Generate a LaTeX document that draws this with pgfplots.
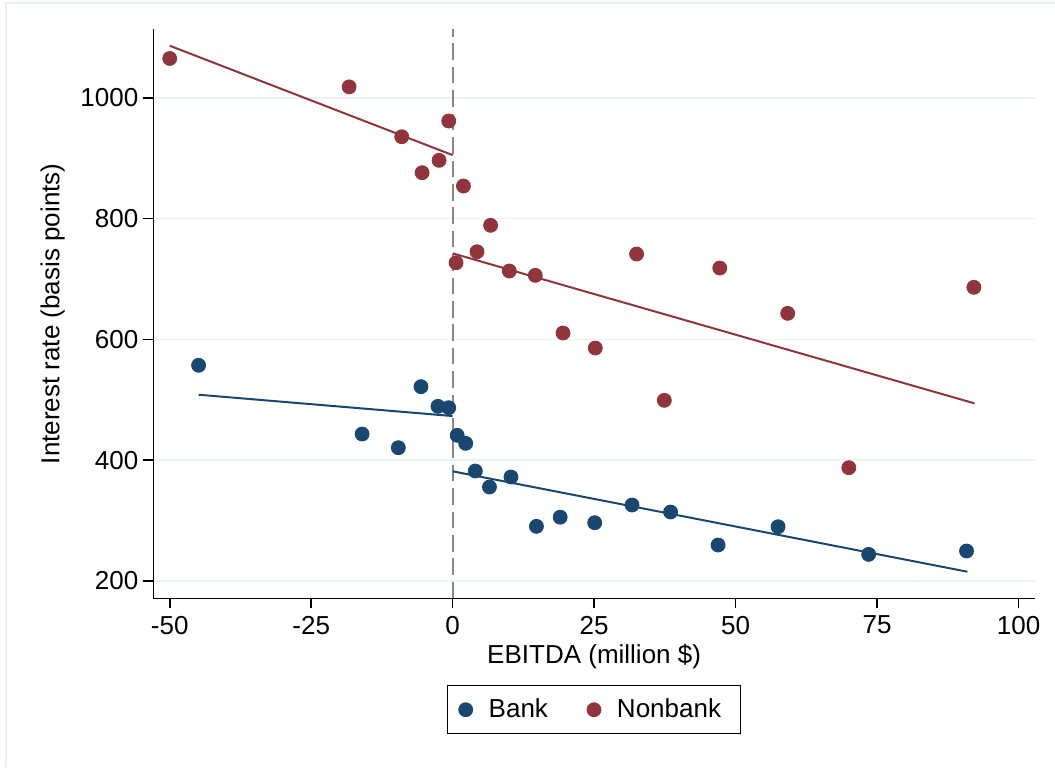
\documentclass[border=0pt]{standalone}
\usepackage{pgfplots}
\pgfplotsset{compat=1.18}
\usepackage{fontspec}
\setmainfont{Liberation Sans}
\definecolor{bankc}{RGB}{26,71,111}
\definecolor{nonbankc}{RGB}{144,53,59}
\definecolor{gridc}{RGB}{234,242,243}
\definecolor{framec}{RGB}{232,240,243}
\definecolor{dashc}{RGB}{135,135,135}
\begin{document}
\begin{tikzpicture}[font=\fontsize{13}{15.6}\selectfont]
\useasboundingbox (0,0) rectangle (527.5pt,383.5pt);
\draw[framec, line width=1pt] (3pt,0pt) -- (3pt,382pt) -- (527.5pt,382pt);
\begin{axis}[
  at={(76.65pt,84.35pt)}, anchor=south west,
  scale only axis, width=440.85pt, height=284.5pt,
  xmin=-52.9, xmax=102.9, ymin=171.4, ymax=1113.3,
  axis x line*=bottom, axis y line*=left,
  axis line style={black, line width=0.8pt},
  every tick/.style={black, line width=0.8pt},
  tick align=outside, major tick length=5pt,
  xtick={-50,-25,0,25,50,75,100},
  ytick={200,400,600,800,1000},
  xticklabel style={yshift=-0.3pt},
  yticklabel style={xshift=1pt},
  /pgf/number format/assume math mode=true,
  /pgf/number format/1000 sep={},
  ymajorgrids, major grid style={gridc, line width=0.8pt},
  xlabel={EBITDA (million \$)},
  ylabel={Interest rate (basis points)},
  xlabel style={at={(axis description cs:0.5,0)}, anchor=base, yshift=-32.5pt, inner sep=0pt},
  ylabel style={at={(axis description cs:0,0.5)}, anchor=base, yshift=47pt, inner sep=0pt},
  legend columns=2,
  legend style={at={(axis description cs:0.5,-0.1524)}, anchor=north,
    draw=black, line width=0.6pt, inner xsep=5.5pt, inner ysep=6.6pt,
    nodes={inner sep=0pt},
    /tikz/every odd column/.append style={column sep=8pt},
    /tikz/every even column/.append style={column sep=19.5pt}},
  legend image code/.code={\draw[#1] plot coordinates {(0pt,0pt)};},
]
\addplot[dashc, line width=1pt, dash pattern=on 8.3pt off 3.4pt, forget plot] coordinates {(0,171.4) (0,1113.3)};
\addplot[only marks, mark=*, mark size=3.5pt, bankc, mark options={fill=bankc, draw=bankc, line width=0.4pt}] coordinates {
(-44.9,557.1) (-16.0,443.3) (-9.6,420.7) (-5.6,521.7) (-2.6,489.2)
(-0.7,486.9) (0.8,441.2) (2.3,427.9) (4.0,382.1) (6.5,355.6)
(10.3,372.2) (14.8,290.5) (19.0,305.7) (25.1,296.5) (31.7,325.8)
(38.5,314.2) (46.9,259.6) (57.5,289.9) (73.5,244.1) (90.8,249.7)};
\addlegendentry{Bank}
\addplot[only marks, mark=*, mark size=3.5pt, nonbankc, mark options={fill=nonbankc, draw=nonbankc, line width=0.4pt}] coordinates {
(-50.0,1065.0) (-18.3,1018.0) (-9.0,935.5) (-5.4,875.9) (-2.4,896.4)
(-0.7,961.5) (0.6,726.9) (1.9,853.9) (4.3,745.1) (6.7,788.8)
(10.0,713.2) (14.6,706.0) (19.5,610.5) (25.2,585.7) (32.5,741.3)
(37.4,499.1) (47.2,718.1) (59.2,643.1) (70.0,387.6) (92.1,686.2)};
\addlegendentry{Nonbank\hspace*{4.25pt}}
\addplot[bankc, line width=1pt, forget plot] coordinates {(-44.9,508.4) (0,473.1)};
\addplot[bankc, line width=1pt, forget plot] coordinates {(0,381.6) (90.95,215.4)};
\addplot[nonbankc, line width=1pt, forget plot] coordinates {(-50,1086.1) (0,905.0)};
\addplot[nonbankc, line width=1pt, forget plot] coordinates {(0,742.4) (92.2,494.1)};
\end{axis}
\end{tikzpicture}
\end{document}
